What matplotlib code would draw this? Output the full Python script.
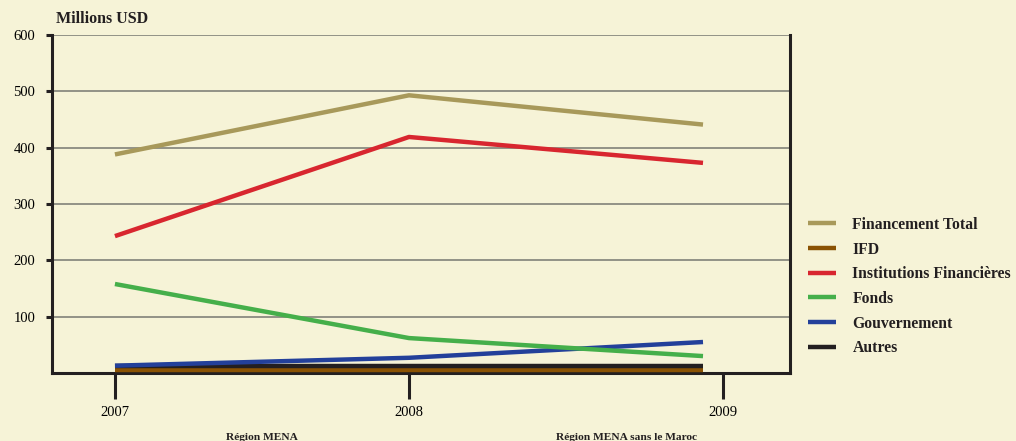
import matplotlib.pyplot as plt

# data (millions USD)
years = [2007, 2008, 2009]
series = ["Financement Total", "IFD", "Institutions Financières", "Fonds", "Gouvernement", "Autres"]
financement_total = [388, 493, 441]
ifd = [6, 6, 6]
institutions = [243, 419, 373]
fonds = [158, 62, 30]
gouvernement = [13, 27, 55]
autres = [12, 12, 12]
year_labels = ["2007", "2008", "2009"]
region_labels = ["Région MENA", "Région MENA sans le Maroc"]

colors = ["#A8995A", "#8A5203", "#D8262F", "#45AF4A", "#23409A", "#231F20"]
bg = "#F6F3D7"

plt.rcParams["font.family"] = ["Liberation Serif", "DejaVu Serif"]

fig = plt.figure(figsize=(10.16, 4.41), dpi=100, facecolor=bg)
ax = fig.add_axes([0.0512, 0.1542, 0.7264, 0.7664], facecolor=bg)

values = [financement_total, ifd, institutions, fonds, gouvernement, autres]
# draw the bottom series first so the big ones sit on top
order = [1, 5, 4, 3, 2, 0]
handles = {}
for i in order:
    ln, = ax.plot(years, values[i], color=colors[i], lw=3.2, label=series[i],
                  solid_capstyle="butt", zorder=3)
    handles[i] = ln

ax.set_xlim(2006.786, 2009.296)
ax.set_ylim(0, 600)
ax.set_yticks([100, 200, 300, 400, 500, 600])
ax.set_yticklabels(["100", "200", "300", "400", "500", "600"])
ax.set_xticks([2007, 2008, 2009.068])
ax.set_xticklabels(year_labels)

for y in [100, 200, 300, 400, 500, 600]:
    ax.axhline(y, color="#8A8A80", lw=1.3, zorder=1)

for s in ["left", "bottom", "right"]:
    ax.spines[s].set_linewidth(2.2)
    ax.spines[s].set_color("#231F20")
ax.spines["top"].set_visible(False)

ax.tick_params(axis="y", length=4, width=2.2, color="#231F20", labelsize=10.5, pad=8)
ax.tick_params(axis="x", length=19, width=2.2, color="#231F20", labelsize=10.5, pad=5)

fig.text(0.055, 0.958, "Millions USD", fontsize=11.5, fontweight="bold", color="#231F20",
         va="center")
fig.text(0.258, 0.003, region_labels[0], fontsize=8.2, fontweight="bold", ha="center",
         color="#231F20")
fig.text(0.617, 0.003, region_labels[1], fontsize=8.2, fontweight="bold", ha="center",
         color="#231F20")

leg = fig.legend([handles[i] for i in range(6)], series, loc="upper left",
                 bbox_to_anchor=(0.781, 0.540), frameon=False,
                 prop={"weight": "bold", "size": 11.3}, handlelength=1.8,
                 handletextpad=1.05, labelspacing=0.55)
for t in leg.get_texts():
    t.set_color("#231F20")

fig.savefig("out.png", dpi=100, facecolor=bg)
